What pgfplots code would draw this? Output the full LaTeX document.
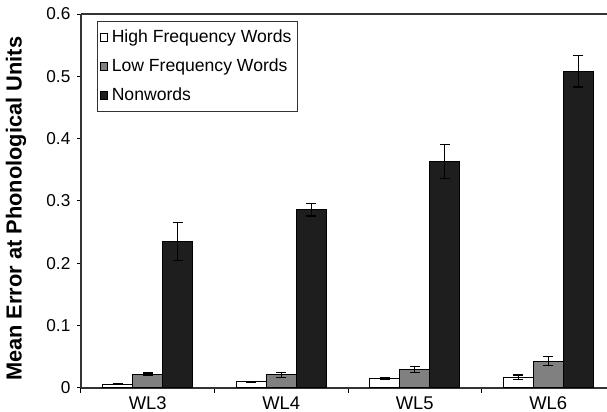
\documentclass[border=0pt]{standalone}
\usepackage{pgfplots}
\pgfplotsset{compat=1.18}
\usepackage{fontspec}
\setmainfont{Liberation Sans}
\definecolor{bargray}{RGB}{128,128,128}
\definecolor{bardark}{RGB}{30,30,30}
\begin{document}
\begin{tikzpicture}
\begin{axis}[
  scale only axis,
  width=263pt, height=187pt,
  xmin=-0.5, xmax=3.44,
  ymin=0, ymax=0.6,
  axis x line*=box,
  axis y line*=left,
  axis line style={line width=0.6pt, color=black!80},
  xtick={0,1,2,3},
  xticklabels={WL3,WL4,WL5,WL6},
  xtick pos=bottom,
  ytick pos=left,
  major x tick style={draw=none},
  minor xtick={-0.5,0.5,1.5,2.5},
  minor tick length=2.5pt,
  major tick length=1.8pt,
  xtick align=inside,
  ytick align=outside,
  ytick={0,0.1,0.2,0.3,0.4,0.5,0.6},
  yticklabels={0,0.1,0.2,0.3,0.4,0.5,0.6},
  tick style={black, line width=0.5pt},
  /pgf/number format/assume math mode=true,
  yticklabel style={font=\fontsize{8.6pt}{10pt}\selectfont},
  xticklabel style={font=\fontsize{9.2pt}{10pt}\selectfont, inner sep=1pt, yshift=-1.5pt},
  ylabel={\bfseries Mean Error at Phonological Units},
  every axis y label/.style={at={(axis description cs:-0.1235,0.479)}, anchor=center, rotate=90, font=\fontsize{10.9pt}{12pt}\selectfont},
  ybar=0pt,
  bar width=15pt,
  legend image code/.code={\draw[#1,/tikz/.cd] (0pt,-1.8pt) rectangle (3.6pt,1.8pt);},
  legend style={at={(axis description cs:0.0304,0.981)}, anchor=north west,
    font=\fontsize{8.8pt}{10pt}\selectfont, draw=black!80, line width=0.6pt,
    row sep=2.6pt, inner xsep=1pt, inner ysep=2pt,
    legend cell align=left},
  error bars/error bar style={line width=0.6pt, black},
  error bars/error mark options={rotate=90, mark size=2.5pt, line width=0.6pt, black},
]
\addplot[fill=white, draw=black, line width=0.5pt,
  error bars/.cd, y dir=both, y explicit]
  coordinates {(0,0.006) +- (0,0.001) (1,0.010) +- (0,0.001) (2,0.015) +- (0,0.002) (3,0.017) +- (0,0.004)};
\addlegendentry{High Frequency Words}
\addplot[fill=bargray, draw=black, line width=0.5pt,
  error bars/.cd, y dir=both, y explicit]
  coordinates {(0,0.022) +- (0,0.002) (1,0.021) +- (0,0.004) (2,0.030) +- (0,0.005) (3,0.043) +- (0,0.007)};
\addlegendentry{Low Frequency Words}
\addplot[fill=bardark, draw=black, line width=0.5pt,
  error bars/.cd, y dir=both, y explicit]
  coordinates {(0,0.235) +- (0,0.030) (1,0.286) +- (0,0.010) (2,0.363) +- (0,0.027) (3,0.508) +- (0,0.025)};
\addlegendentry{Nonwords}
\coordinate (ll) at (rel axis cs:0,0);
\coordinate (ur) at (rel axis cs:1,1);
\end{axis}
\pgfresetboundingbox
\path[use as bounding box] ([shift={(-40.5pt,-12pt)}]ll) rectangle ([shift={(0pt,7pt)}]ur);
\end{tikzpicture}
\end{document}
